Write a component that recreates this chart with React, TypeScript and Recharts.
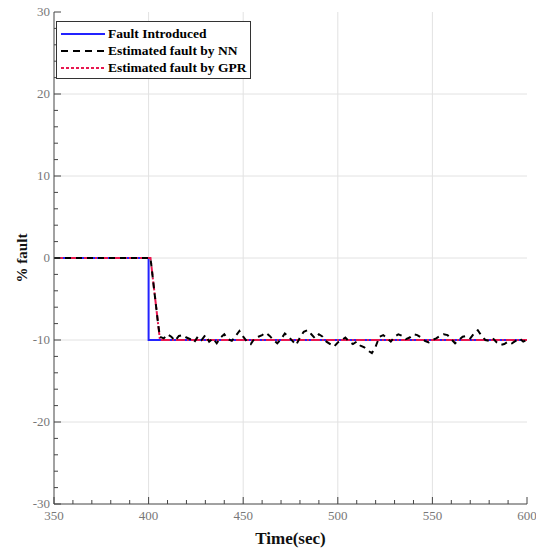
import { CartesianGrid, Legend, Line, LineChart, XAxis, YAxis } from 'recharts'

// time (sec) / % fault
const faultTime = [350, 400, 400, 600]
const faultValue = [0, 0, -10, -10]

const gprTime = [350, 401, 406, 600]
const gprValue = [0, 0, -10, -10]

const nnTime = [
  350, 401, 403, 405, 406, 408, 410, 412, 414, 416, 418, 420, 422, 424, 426, 428, 430, 432, 434, 436,
  438, 440, 442, 444, 446, 448, 450, 452, 454, 456, 458, 460, 462, 464, 466, 468, 470, 472, 474, 476,
  478, 480, 482, 484, 486, 488, 490, 492, 494, 496, 498, 500, 502, 504, 506, 508, 510, 512, 514, 516,
  518, 520, 522, 524, 526, 528, 530, 532, 534, 536, 538, 540, 542, 544, 546, 548, 550, 552, 554, 556,
  558, 560, 562, 564, 566, 568, 570, 572, 574, 576, 578, 580, 582, 584, 586, 588, 590, 592, 594, 596,
  598, 600,
]
const nnValue = [
  0, 0, -4, -8, -9.6, -9.8, -9.3, -9.6, -10.1, -9.5, -9.4, -9.7, -9.9, -10.3, -9.6, -10.0, -9.4, -10.2, -9.8, -10.4,
  -9.7, -9.3, -9.9, -10.1, -9.5, -8.9, -9.6, -10.2, -10.5, -9.8, -9.6, -9.4, -9.1, -9.5, -10.0, -10.4, -9.9, -9.2, -9.6, -10.1,
  -10.6, -9.7, -9.0, -8.8, -9.3, -9.8, -9.3, -9.6, -10.2, -10.5, -10.8, -10.3, -10.0, -9.7, -10.2, -10.5, -10.2, -10.7, -10.9, -11.3,
  -11.6, -10.8, -9.6, -9.4, -9.8, -10.2, -9.6, -9.3, -9.5, -9.9, -9.7, -9.3, -9.4, -9.7, -10.1, -10.3, -10.0, -9.8, -9.5, -9.3,
  -9.4, -9.9, -10.4, -10.0, -9.6, -9.5, -9.8, -9.2, -8.8, -9.5, -10.0, -10.1, -9.8, -10.3, -10.6, -10.5, -10.2, -10.4, -10.1, -9.8,
  -10.2, -10.0,
]

const xTicks = [
  350, 360, 370, 380, 390, 400, 410, 420, 430, 440, 450, 460, 470, 480, 490, 500, 510, 520, 530, 540,
  550, 560, 570, 580, 590, 600,
]
const yTicks = [
  -30, -28, -26, -24, -22, -20, -18, -16, -14, -12, -10, -8, -6, -4, -2, 0, 2, 4, 6, 8, 10, 12, 14, 16,
  18, 20, 22, 24, 26, 28, 30,
]
const xGrid = [400, 450, 500, 550]
const yGrid = [-20, -10, 0, 10, 20]

const toRows = (t: number[], v: number[]) => t.map((x, i) => ({ t: x, v: v[i] }))

const FONT = '"Liberation Serif", "DejaVu Serif", serif'
const AXIS = '#444'

const BottomTick = ({ x, y, payload }: any) => {
  const major = payload.value % 50 === 0
  return (
    <g>
      <line x1={x} x2={x} y1={y} y2={y - (major ? 7 : 4)} stroke={AXIS} />
      {major && (
        <text x={x} y={y + 16} textAnchor="middle" fill="#777" fontSize={13} fontFamily={FONT}>
          {payload.value}
        </text>
      )}
    </g>
  )
}

const TopTick = ({ x, y, payload }: any) => {
  const major = payload.value % 50 === 0
  return <line x1={x} x2={x} y1={y} y2={y + (major ? 7 : 4)} stroke={AXIS} />
}

const LeftTick = ({ x, y, payload }: any) => {
  const major = payload.value % 10 === 0
  return (
    <g>
      <line x1={x} x2={x + (major ? 7 : 4)} y1={y} y2={y} stroke={AXIS} />
      {major && (
        <text x={x - 4} y={y + 4} textAnchor="end" fill="#777" fontSize={13} fontFamily={FONT}>
          {payload.value}
        </text>
      )}
    </g>
  )
}

const RightTick = ({ x, y, payload }: any) => {
  const major = payload.value % 10 === 0
  return <line x1={x} x2={x - (major ? 7 : 4)} y1={y} y2={y} stroke={AXIS} />
}

const legendItems = [
  { name: 'Fault Introduced', color: '#2323ff', dash: undefined },
  { name: 'Estimated fault by NN', color: '#000', dash: '7 5' },
  { name: 'Estimated fault by GPR', color: '#e8174f', dash: '3 2' },
]

const LegendBox = () => (
  <div
    style={{
      border: '1px solid #333',
      background: '#fff',
      padding: '3px 4px 2px 4px',
      fontFamily: FONT,
      fontWeight: 'bold',
      fontSize: 13.5,
      lineHeight: '17px',
    }}
  >
    {legendItems.map((it) => (
      <div key={it.name} style={{ display: 'flex', alignItems: 'center', whiteSpace: 'nowrap' }}>
        <svg width={44} height={8} style={{ marginRight: 3 }}>
          <line x1={0} x2={44} y1={4} y2={4} stroke={it.color} strokeWidth={2} strokeDasharray={it.dash} />
        </svg>
        <span>{it.name}</span>
      </div>
    ))}
  </div>
)

export default function App() {
  return (
    <div style={{ position: 'absolute', left: 0, top: 0, background: '#fff' }}>
      <LineChart width={536} height={549} margin={{ top: 12, right: 9, bottom: 0, left: 0 }}>
        <CartesianGrid
          stroke="#e2e2e2"
          horizontalValues={yGrid}
          verticalValues={xGrid}
        />
        <XAxis
          dataKey="t"
          type="number"
          domain={[350, 600]}
          ticks={xTicks}
          interval={0}
          tickSize={0}
          tickMargin={0}
          tickLine={false}
          tick={<BottomTick />}
          axisLine={{ stroke: AXIS }}
          height={45}
          allowDataOverflow
          label={{
            value: 'Time(sec)',
            position: 'insideBottom',
            offset: 5,
            style: { fontFamily: FONT, fontWeight: 'bold', fontSize: 17, fill: '#111' },
          }}
        />
        <XAxis
          xAxisId="top"
          orientation="top"
          type="number"
          domain={[350, 600]}
          ticks={xTicks}
          interval={0}
          tickSize={0}
          tickMargin={0}
          tickLine={false}
          tick={<TopTick />}
          axisLine={{ stroke: AXIS }}
          height={0}
        />
        <YAxis
          type="number"
          domain={[-30, 30]}
          ticks={yTicks}
          interval={0}
          tickSize={0}
          tickMargin={0}
          tickLine={false}
          tick={<LeftTick />}
          axisLine={{ stroke: AXIS }}
          width={54}
          allowDataOverflow
          label={{
            value: '% fault',
            angle: -90,
            position: 'insideLeft',
            offset: 22,
            style: { fontFamily: FONT, fontWeight: 'bold', fontSize: 15, fill: '#111', textAnchor: 'middle' },
          }}
        />
        <YAxis
          yAxisId="right"
          orientation="right"
          type="number"
          domain={[-30, 30]}
          ticks={yTicks}
          interval={0}
          tickSize={0}
          tickMargin={0}
          tickLine={false}
          tick={<RightTick />}
          axisLine={{ stroke: AXIS }}
          width={0}
        />
        <Legend
          layout="vertical"
          align="center"
          verticalAlign="middle"
          content={<LegendBox />}
          wrapperStyle={{ left: 56, top: 21, width: 'auto' }}
        />
        <Line
          data={toRows(faultTime, faultValue)}
          dataKey="v"
          name="Fault Introduced"
          type="linear"
          stroke="#2323ff"
          strokeWidth={2}
          dot={false}
          isAnimationActive={false}
        />
        <Line
          data={toRows(gprTime, gprValue)}
          dataKey="v"
          name="Estimated fault by GPR"
          type="linear"
          stroke="#e8174f"
          strokeWidth={2}
          strokeDasharray="9 2 2 2"
          dot={false}
          isAnimationActive={false}
        />
        <Line
          data={toRows(nnTime, nnValue)}
          dataKey="v"
          name="Estimated fault by NN"
          type="linear"
          stroke="#000"
          strokeWidth={2}
          strokeDasharray="6 5"
          dot={false}
          isAnimationActive={false}
        />
      </LineChart>
    </div>
  )
}
